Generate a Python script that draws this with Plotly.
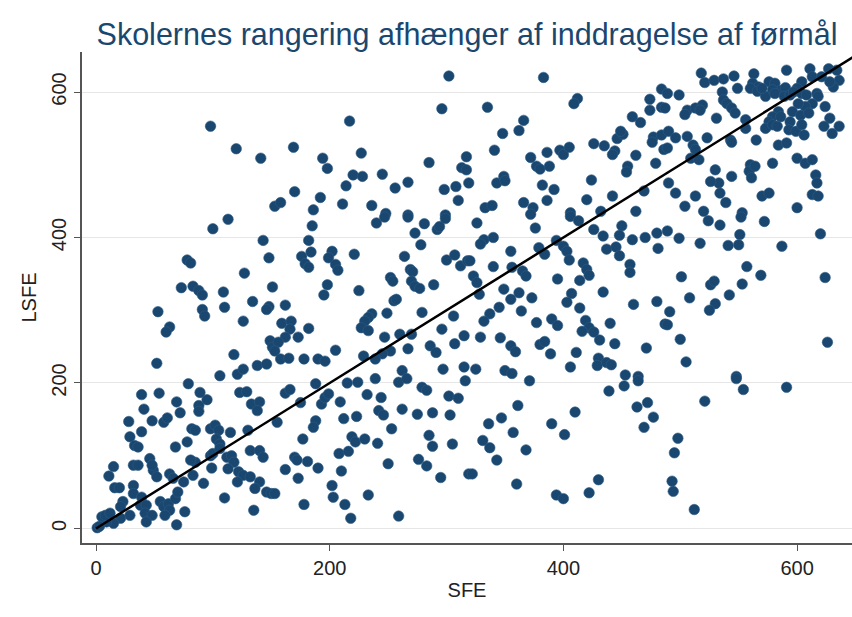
import plotly.graph_objects as go

# SFE rank (x) and LSFE rank (y)
sfe = [
    98, 120, 141, 153,
    302, 296, 217, 169, 194, 198, 227, 285, 317, 313, 317, 220, 228, 245, 214, 256, 267, 298, 308, 310, 319, 170, 158, 192, 186, 211, 236, 248, 267, 299,
    383, 412, 409, 335, 366, 362, 348, 341, 372, 386, 397, 400, 405, 426, 435, 444, 442, 446, 451, 449, 459, 466,
    474, 474, 484, 484, 477, 476, 484, 486, 462, 479, 455, 454, 377, 380, 388, 343, 349, 350, 382, 392, 386, 424, 420, 442, 469, 333, 339, 366, 374, 406, 462, 432,
    518, 521, 529, 537, 546, 563, 562, 567, 576, 581, 591, 586, 590,
    611, 613, 621, 627, 634, 636, 631, 628, 604, 600,
    549, 536, 537, 540, 544, 547, 560, 566, 573, 570,
    579, 581, 589, 594, 597, 604, 608, 617,
    618, 624, 613, 607, 601, 596, 603, 628, 636, 630, 623, 610,
    584, 579, 576, 573, 579, 586, 583, 594, 593, 599, 604, 606,
    556, 556, 565, 584, 591, 531, 543, 544, 499, 506, 504, 513, 519, 517, 489, 487,
    490, 496, 489, 506, 523, 511, 513, 509, 516,
    490, 496, 504, 513, 520, 530, 533, 526, 544, 534, 539,
    560, 559, 564, 561, 570, 576, 553, 579,
    600, 607, 613, 616, 617, 613, 618, 600,
    113, 100, 143, 148, 78, 81, 127, 151, 73, 83, 88, 91, 109, 110, 134, 148, 146, 91, 93, 53, 63, 60, 126, 149, 151, 118, 52, 106, 121, 126, 138, 146,
    185, 182, 184, 176, 179, 182, 202, 199, 205, 207, 221, 240, 247,
    267, 281, 273, 278, 292, 294, 299, 264, 300, 307, 312, 318,
    269, 271, 252, 254, 270, 273, 277, 289, 198, 195, 225, 255, 257, 162,
    236, 233, 230, 227, 233, 249, 279,
    159, 167, 166, 162, 156, 153, 158, 165, 173, 182, 178, 190, 196, 205,
    247, 260, 270, 267, 252, 245, 239, 229,
    296, 306, 307, 315, 286, 291, 297, 315, 262,
    326, 372, 376, 406, 413, 332, 340, 329, 355, 320, 340,
    323, 326, 328, 356, 365, 368, 379, 384, 394, 400, 403, 405,
    426, 434, 450, 448, 459, 470, 480, 481, 437, 445, 448,
    417, 420, 422, 414, 395, 457, 457, 434,
    349, 355, 362, 373, 407, 403, 414, 345, 337, 332, 364, 377, 390, 395,
    419, 422, 426, 431, 416, 440, 460, 480, 487,
    329, 346, 355, 359, 380, 384, 389, 411, 444, 471,
    430, 429, 437, 441, 406, 325, 350, 356, 453, 464,
    524, 534, 552, 572, 489, 499, 517, 541, 550, 551, 587, 620,
    557, 569, 553, 501, 526, 529, 624, 508, 542, 530, 525, 491, 489, 500, 505, 548, 626,
    79, 39, 54, 69, 72, 88, 95, 89, 88, 41, 48, 58, 61,
    28, 39, 29, 33, 36, 82, 85, 98, 102, 105, 115, 103, 106,
    123, 129, 133, 140, 138, 130, 68, 78, 46, 49, 48, 52,
    32, 36, 15, 11, 16, 20, 32, 32, 39, 23, 21, 29, 21, 15, 9, 5, 8, 1, 3, 12,
    38, 43, 42, 48, 43, 55, 58, 62, 63, 59, 69, 76, 68, 75, 70,
    63, 66, 83, 85, 81, 92, 98, 100, 99, 112, 116, 118, 113, 106,
    122, 126, 132, 140, 121, 132, 140, 143, 136, 146, 150, 110, 135,
    188, 215, 224, 239, 259, 266, 279, 283, 316,
    162, 166, 175, 193, 196, 199, 209, 232, 244,
    155, 188, 186, 212, 223, 242, 246, 262, 275, 288, 303, 302, 310,
    253, 177, 219, 222, 230, 241, 285, 288, 305, 208, 216,
    170, 172, 181, 190, 162, 173, 210, 250, 276, 283, 295, 319,
    202, 203, 213, 218, 233, 178, 259, 153,
    371, 439, 452, 464, 361, 347, 336, 357, 331, 337, 343, 368, 360, 322,
    390, 401, 410, 430, 422, 394, 400, 463, 472, 477, 469,
    548, 554, 591, 521, 498, 495, 493, 494, 512,
]
lsfe = [
    553, 522, 509, 443,
    622, 577, 560, 524, 509, 495, 516, 503, 511, 496, 493, 486, 484, 487, 471, 468, 476, 466, 470, 451, 475, 463, 448, 455, 438, 446, 444, 433, 431, 431,
    620, 591, 584, 579, 561, 547, 543, 520, 510, 517, 520, 514, 524, 529, 526, 519, 514, 536, 542, 546, 566, 558,
    590, 575, 604, 579, 538, 531, 541, 521, 513, 502, 498, 490, 498, 494, 498, 475, 484, 478, 472, 466, 451, 479, 452, 457, 464, 441, 444, 448, 441, 434, 436, 436,
    626, 613, 616, 618, 622, 625, 612, 607, 614, 612, 630, 602, 606,
    632, 621, 621, 632, 630, 616, 607, 614, 614, 605,
    605, 600, 589, 584, 578, 571, 605, 601, 594, 605,
    603, 598, 594, 596, 600, 598, 596, 598,
    594, 580, 584, 580, 584, 573, 568, 564, 553, 543, 553, 571,
    573, 566, 559, 550, 555, 566, 553, 559, 548, 546, 555, 541,
    562, 550, 534, 527, 530, 564, 534, 531, 596, 575, 569, 578, 582, 575, 598, 578,
    546, 537, 523, 539, 537, 527, 521, 509, 507,
    475, 461, 443, 457, 436, 493, 475, 477, 484, 461, 448,
    500, 491, 498, 482, 457, 461, 434, 502,
    509, 502, 507, 486, 475, 459, 457, 441,
    425, 412, 396, 372, 369, 365, 351, 332, 331, 333, 327, 321, 325, 304, 312, 305, 301, 301, 292, 298, 277, 270, 285, 258, 249, 239, 227, 210, 212, 219, 224, 226,
    416, 396, 380, 374, 364, 359, 381, 372, 363, 355, 377, 420, 428,
    428, 419, 406, 390, 411, 415, 426, 374, 369, 376, 361, 368,
    356, 353, 345, 340, 340, 333, 330, 335, 335, 321, 327, 313, 315, 307,
    295, 290, 285, 276, 272, 296, 297,
    282, 285, 274, 263, 256, 244, 233, 234, 263, 275, 233, 233, 230, 245,
    263, 267, 267, 247, 244, 240, 233, 237,
    274, 292, 254, 265, 251, 242, 219, 222, 217,
    420, 432, 413, 429, 423, 397, 400, 391, 381, 368, 360,
    347, 338, 322, 359, 354, 347, 386, 377, 396, 388, 381, 369,
    411, 402, 416, 403, 397, 400, 406, 385, 384, 387, 375,
    365, 356, 348, 341, 343, 363, 352, 325,
    329, 315, 324, 317, 323, 311, 303, 304, 295, 285, 299, 283, 288, 279,
    286, 276, 270, 259, 271, 282, 308, 312, 281,
    263, 262, 251, 243, 253, 257, 240, 242, 254, 248,
    234, 224, 228, 225, 222, 219, 217, 213, 211, 209,
    423, 417, 428, 422, 409, 399, 392, 389, 390, 404, 388, 405,
    360, 348, 336, 346, 335, 340, 345, 317, 321, 309, 300, 298, 280, 260, 229, 209, 256,
    199, 184, 186, 174, 159, 169, 177, 187, 161, 164, 148, 146, 152,
    147, 133, 126, 114, 112, 137, 135, 137, 142, 135, 132, 123, 116,
    187, 188, 171, 174, 162, 135, 112, 119, 96, 80, 87, 71,
    87, 87, 85, 72, 56, 56, 59, 48, 43, 37, 30, 18, 14, 7, 9, 16, 18, 1, 3, 21,
    32, 32, 21, 18, 9, 37, 30, 34, 25, 18, 5, 23, 41, 64, 50,
    75, 69, 73, 91, 94, 62, 100, 103, 83, 98, 100, 91, 82, 110,
    78, 73, 71, 64, 64, 107, 107, 98, 55, 50, 48, 42, 25,
    199, 200, 201, 206, 201, 206, 194, 190, 203,
    186, 191, 173, 171, 180, 185, 174, 184, 180,
    146, 148, 139, 151, 154, 162, 156, 164, 157, 159, 156, 182, 179,
    137, 123, 126, 119, 123, 117, 128, 113, 116, 103, 106,
    98, 94, 92, 83, 81, 69, 79, 89, 95, 86, 70, 75,
    59, 43, 33, 14, 46, 33, 17, 48,
    203, 189, 196, 203, 169, 152, 144, 132, 121, 111, 94, 108, 61, 75,
    144, 129, 160, 67, 49, 46, 41, 167, 173, 153, 139,
    206, 191, 194, 175, 124, 104, 65, 51, 26,
]
x_ticks = [0, 200, 400, 600]
y_ticks = [0, 200, 400, 600]
diagonal = [0, 660]
title_text = "Skolernes rangering afhænger af inddragelse af førmål"
x_title = "SFE"
y_title = "LSFE"

navy = "#1a476f"
font_family = "Liberation Sans, Arial, sans-serif"

fig = go.Figure()
fig.add_trace(go.Scatter(
    x=sfe, y=lsfe, mode="markers",
    marker=dict(size=10.5, color=navy, line=dict(width=0.6, color="#2c5a85")),
    showlegend=False, hoverinfo="skip",
))
fig.add_trace(go.Scatter(
    x=diagonal, y=diagonal, mode="lines",
    line=dict(color="black", width=2.5),
    showlegend=False, hoverinfo="skip",
))

fig.update_layout(
    width=852, height=617,
    margin=dict(l=82, r=0, t=52, b=74, autoexpand=False),
    paper_bgcolor="white", plot_bgcolor="white",
    font=dict(family=font_family, size=20, color="#222222"),
    title=dict(
        text=title_text, x=0.5, xref="paper", xanchor="center",
        y=1 - 34 / 617, yref="container", yanchor="middle",
        font=dict(family=font_family, size=30.5, color=navy),
    ),
    xaxis=dict(
        range=[-12, 647], tickvals=x_ticks, ticks="outside", ticklen=6,
        tickcolor="#555555", showline=True, linecolor="#555555", linewidth=1.5,
        showgrid=False, zeroline=False, automargin=False,
        title=dict(text=x_title, standoff=5, font=dict(size=20)),
    ),
    yaxis=dict(
        range=[-20, 655], tickvals=y_ticks, ticks="outside", ticklen=6,
        tickangle=-90, tickcolor="#555555", showline=True, linecolor="#555555",
        linewidth=1.5, showgrid=True, gridcolor="#e6e6e6", gridwidth=1,
        zeroline=False, automargin=False,
        title=dict(text=y_title, standoff=6, font=dict(size=20)),
    ),
)

fig.write_html(
    "out.html",
    config={"displayModeBar": False},
    post_script="document.body.style.margin='0';document.body.style.padding='0';",
)
